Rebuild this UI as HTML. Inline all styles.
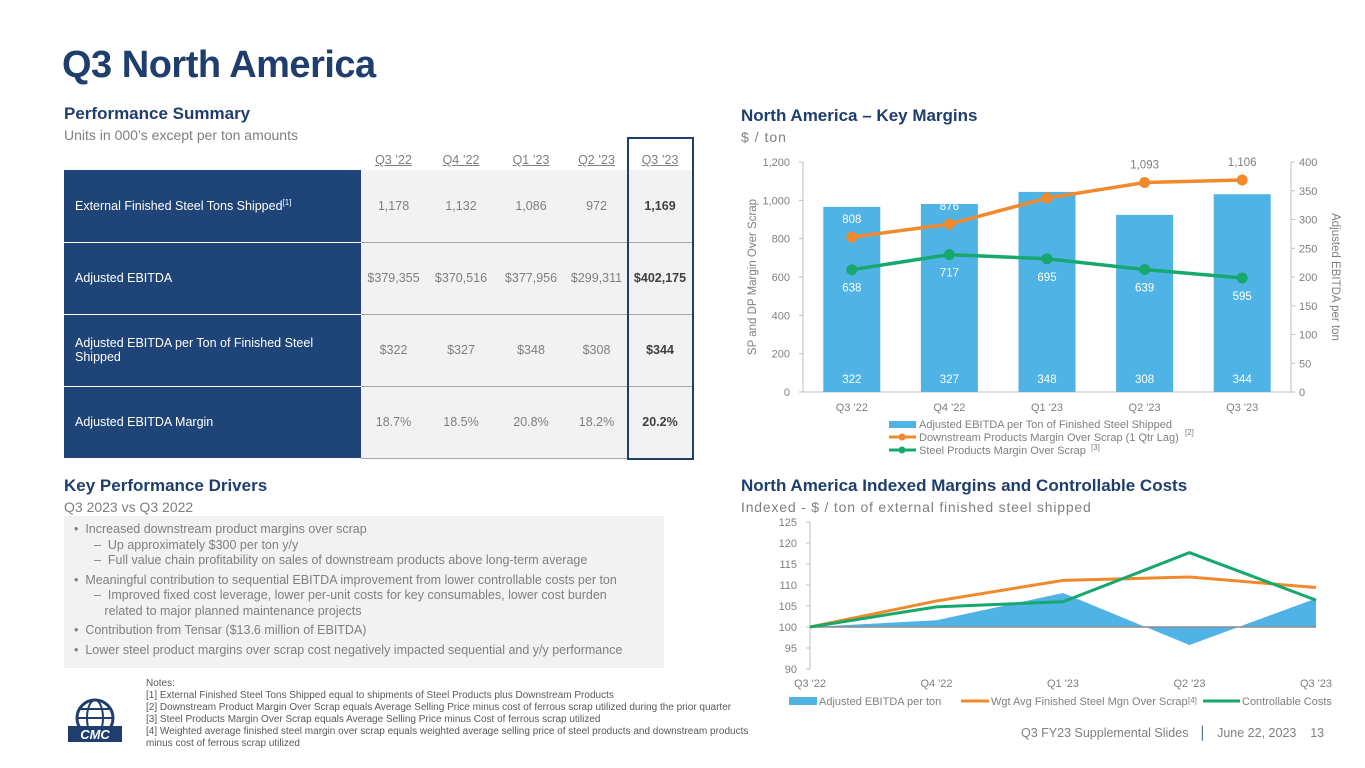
<!DOCTYPE html>
<html><head><meta charset="utf-8">
<style>
*{margin:0;padding:0;box-sizing:border-box}
body{width:1365px;height:768px;background:#fff;font-family:"Liberation Sans",sans-serif;position:relative;overflow:hidden;color:#595959}
.abs{position:absolute}
h1{position:absolute;left:62px;top:44px;font-size:38px;font-weight:bold;color:#1f3e6e;letter-spacing:-0.5px}
.h2{position:absolute;font-size:17px;font-weight:bold;color:#1f3e6e}
.sub{position:absolute;font-size:14px;color:#7f7f7f}
table{position:absolute;left:64px;top:146px;border-collapse:collapse;font-size:12.5px;table-layout:fixed;width:629px}
td{height:72px;text-align:center;color:#7f7f7f;white-space:nowrap}
td.lab{background:#1f4477;color:#fff;text-align:left;padding-left:11px;border-bottom:1px solid #fff;white-space:normal}
td.v{background:#f2f2f2;border-bottom:1px solid #a6a6a6}
td.b{font-weight:bold;color:#404040}
tr.hd td{height:24px;text-decoration:underline;color:#7f7f7f;background:#fff;vertical-align:bottom;padding-bottom:3px}
.box{position:absolute;left:64px;top:516px;width:600px;height:152px;background:#f2f2f2;font-size:12.5px;color:#7f7f7f;line-height:15.5px;padding:6px 10px}
.notes{position:absolute;left:146px;top:678px;font-size:10px;line-height:12px;color:#595959}
svg text{font-family:"Liberation Sans",sans-serif}
</style></head><body>
<h1>Q3 North America</h1>
<div class="h2" style="left:64px;top:104px">Performance Summary</div>
<div class="sub" style="left:64px;top:127px">Units in 000’s except per ton amounts</div>
<div class="abs" style="left:627px;top:137px;width:67px;height:323px;border:2px solid #1f3e6e;z-index:2"></div>
<table>
<colgroup><col style="width:297px"><col style="width:65px"><col style="width:70px"><col style="width:70px"><col style="width:61px"><col style="width:66px"></colgroup>
<tr class="hd"><td style="background:#fff"></td><td>Q3 ’22</td><td>Q4 ’22</td><td>Q1 ’23</td><td>Q2 ’23</td><td>Q3 ’23</td></tr>
<tr><td class="lab">External Finished Steel Tons Shipped<sup style="font-size:8px">[1]</sup></td><td class="v">1,178</td><td class="v">1,132</td><td class="v">1,086</td><td class="v">972</td><td class="v b">1,169</td></tr>
<tr><td class="lab">Adjusted EBITDA</td><td class="v">$379,355</td><td class="v">$370,516</td><td class="v">$377,956</td><td class="v">$299,311</td><td class="v b">$402,175</td></tr>
<tr><td class="lab">Adjusted EBITDA per Ton of Finished Steel Shipped</td><td class="v">$322</td><td class="v">$327</td><td class="v">$348</td><td class="v">$308</td><td class="v b">$344</td></tr>
<tr><td class="lab">Adjusted EBITDA Margin</td><td class="v">18.7%</td><td class="v">18.5%</td><td class="v">20.8%</td><td class="v">18.2%</td><td class="v b">20.2%</td></tr>
</table>
<div class="h2" style="left:64px;top:476px">Key Performance Drivers</div>
<div class="sub" style="left:64px;top:499px">Q3 2023 vs Q3 2022</div>
<div class="box">
<div>• &nbsp;Increased downstream product margins over scrap</div>
<div style="padding-left:20px">–&nbsp; Up approximately $300 per ton y/y</div>
<div style="padding-left:20px">–&nbsp; Full value chain profitability on sales of downstream products above long-term average</div>
<div style="margin-top:4px">• &nbsp;Meaningful contribution to sequential EBITDA improvement from lower controllable costs per ton</div>
<div style="padding-left:20px">–&nbsp; Improved fixed cost leverage, lower per-unit costs for key consumables, lower cost burden<br>&nbsp;&nbsp;&nbsp;related to major planned maintenance projects</div>
<div style="margin-top:4px">• &nbsp;Contribution from Tensar ($13.6 million of EBITDA)</div>
<div style="margin-top:4px">• &nbsp;Lower steel product margins over scrap cost negatively impacted sequential and y/y performance</div>
</div>
<div class="notes">Notes:<br>[1] External Finished Steel Tons Shipped equal to shipments of Steel Products plus Downstream Products<br>[2] Downstream Product Margin Over Scrap equals Average Selling Price minus cost of ferrous scrap utilized during the prior quarter<br>[3] Steel Products Margin Over Scrap equals Average Selling Price minus Cost of ferrous scrap utilized<br>[4] Weighted average finished steel margin over scrap equals weighted average selling price of steel products and downstream products<br>minus cost of ferrous scrap utilized</div>
<svg class="abs" style="left:62px;top:698px" width="70" height="52">
<circle cx="33" cy="20" r="18" fill="none" stroke="#1f3e6e" stroke-width="3"/>
<ellipse cx="33" cy="20" rx="8" ry="18" fill="none" stroke="#1f3e6e" stroke-width="2"/>
<line x1="15" y1="20" x2="51" y2="20" stroke="#1f3e6e" stroke-width="2"/>
<line x1="18" y1="11" x2="48" y2="11" stroke="#1f3e6e" stroke-width="2"/>
<rect x="6" y="28" width="54" height="16" fill="#1f3e6e"/>
<text x="33" y="41" font-size="13" font-weight="bold" fill="#fff" text-anchor="middle" font-style="italic">CMC</text>
</svg>
<div class="abs" style="left:1021px;top:726px;font-size:12.5px;color:#7f7f7f">Q3 FY23 Supplemental Slides &nbsp;&nbsp;<span style="color:#1f3e6e">│</span>&nbsp;&nbsp; June 22, 2023 &nbsp;&nbsp;&nbsp;13</div>

<div class="h2" style="left:741px;top:106px">North America – Key Margins</div>
<div class="sub" style="left:741px;top:129px;letter-spacing:1px">$ / ton</div>
<div class="h2" style="left:741px;top:476px">North America Indexed Margins and Controllable Costs</div>
<div class="sub" style="left:741px;top:499px;letter-spacing:0.8px">Indexed - $ / ton of external finished steel shipped</div>

<svg id="c1" class="abs" style="left:0;top:0" width="1365" height="768"></svg>
<script>
const cats=["Q3 '22","Q4 '22","Q1 '23","Q2 '23","Q3 '23"];
const ebitdaPerTon=[322,327,348,308,344];
const dpMargin=[808,876,1012,1093,1106];
const spMargin=[638,717,695,639,595];
const leftTicks=[0,200,400,600,800,1000,1200];
const rightTicks=[0,50,100,150,200,250,300,350,400];
const idxEbitda=[100,101.6,108.1,95.7,106.8];
const idxWgt=[100,106.2,111.1,111.9,109.4];
const idxCost=[100,104.8,106.0,117.7,106.4];
const idxTicks=[90,95,100,105,110,115,120,125];

const NS="http://www.w3.org/2000/svg";
const svg=document.getElementById('c1');
function mk(t,a,txt){const e=document.createElementNS(NS,t);for(const k in a)e.setAttribute(k,a[k]);if(txt!==undefined)e.textContent=txt;svg.appendChild(e);return e;}
const fmt=v=>v.toLocaleString('en-US');
const L=803,R=1291,Y0=392,Y1=162;
const yl=v=>Y0-(v/1200)*(Y0-Y1), yr=v=>Y0-(v/400)*(Y0-Y1);
const bw=(R-L)/cats.length, xc=i=>L+bw*(i+0.5);
let e;
leftTicks.forEach(t=>{e=mk('text',{x:790,y:yl(t)+4,'font-size':11,fill:'#7f7f7f','text-anchor':'end'},fmt(t));});
rightTicks.forEach(t=>{e=mk('text',{x:1299,y:yr(t)+4,'font-size':11,fill:'#7f7f7f'},t);});
mk('line',{x1:L,y1:Y1,x2:L,y2:Y0,stroke:'#bfbfbf'});mk('line',{x1:R,y1:Y1,x2:R,y2:Y0,stroke:'#bfbfbf'});
mk('line',{x1:L,y1:Y0,x2:R,y2:Y0,stroke:'#bfbfbf'});
leftTicks.forEach(t=>mk('line',{x1:L-4,y1:yl(t),x2:L,y2:yl(t),stroke:'#bfbfbf'}));
rightTicks.forEach(t=>mk('line',{x1:R,y1:yr(t),x2:R+4,y2:yr(t),stroke:'#bfbfbf'}));
e=mk('text',{x:0,y:0,'font-size':11.5,fill:'#7f7f7f','text-anchor':'middle',transform:`translate(756,${(Y0+Y1)/2}) rotate(-90)`},'SP and DP Margin Over Scrap');
e=mk('text',{x:0,y:0,'font-size':11.5,fill:'#7f7f7f','text-anchor':'middle',transform:`translate(1332,${(Y0+Y1)/2}) rotate(90)`},'Adjusted EBITDA per ton');
ebitdaPerTon.forEach((v,i)=>{e=mk('rect',{x:xc(i)-28.5,y:yr(v),width:57,height:Y0-yr(v),fill:'#4fb3e6'});
mk('text',{x:xc(i),y:383,'font-size':11.5,fill:'#fff','text-anchor':'middle'},v);
mk('text',{x:xc(i),y:411,'font-size':11,fill:'#7f7f7f','text-anchor':'middle'},cats[i]);});
function series(arr,col,name){e=mk('polyline',{points:arr.map((v,i)=>xc(i)+','+yl(v)).join(' '),fill:'none',stroke:col,'stroke-width':3.5});
arr.forEach((v,i)=>{e=mk('circle',{cx:xc(i),cy:yl(v),r:5.5,fill:col});});}
series(dpMargin,'#f08a2c','dp-margin');series(spMargin,'#16a86c','sp-margin');
dpMargin.forEach((v,i)=>{const inBar=yl(v)>yr(ebitdaPerTon[i]);mk('text',{x:xc(i),y:yl(v)-14,'font-size':11.5,fill:inBar?'#fff':'#7f7f7f','text-anchor':'middle'},fmt(v));});
spMargin.forEach((v,i)=>mk('text',{x:xc(i),y:yl(v)+22,'font-size':11.5,fill:'#fff','text-anchor':'middle'},v));
mk('rect',{x:889,y:421,width:27,height:7,fill:'#4fb3e6'});
mk('text',{x:919,y:428,'font-size':11,fill:'#7f7f7f'},'Adjusted EBITDA per Ton of Finished Steel Shipped');
mk('line',{x1:889,y1:437,x2:916,y2:437,stroke:'#f08a2c','stroke-width':3});mk('circle',{cx:902,cy:437,r:3.5,fill:'#f08a2c'});
mk('text',{x:919,y:441,'font-size':11,fill:'#7f7f7f'},'Downstream Products Margin Over Scrap (1 Qtr Lag)');
mk('text',{x:1185,y:435,'font-size':8,fill:'#7f7f7f'},'[2]');
mk('line',{x1:889,y1:450,x2:916,y2:450,stroke:'#16a86c','stroke-width':3});mk('circle',{cx:902,cy:450,r:3.5,fill:'#16a86c'});
mk('text',{x:919,y:454,'font-size':11,fill:'#7f7f7f'},'Steel Products Margin Over Scrap');
mk('text',{x:1091,y:450,'font-size':8,fill:'#7f7f7f'},'[3]');
const L2=810,R2=1316,B2=669,T2=522;
const yi=v=>B2-(v-90)/35*(B2-T2), xi=i=>L2+(R2-L2)*i/(cats.length-1);
idxTicks.forEach(t=>{e=mk('text',{x:797,y:yi(t)+4,'font-size':11,fill:'#7f7f7f','text-anchor':'end'},t);mk('line',{x1:L2-4,y1:yi(t),x2:L2,y2:yi(t),stroke:'#bfbfbf'});});
mk('line',{x1:L2,y1:T2,x2:L2,y2:B2,stroke:'#bfbfbf'});
e=mk('polygon',{points:`${xi(0)},${yi(100)} `+idxEbitda.map((v,i)=>xi(i)+','+yi(v)).join(' ')+` ${xi(cats.length-1)},${yi(100)}`,fill:'#4fb3e6'});
mk('line',{x1:L2,y1:yi(100),x2:R2,y2:yi(100),stroke:'#8c8c8c','stroke-width':1.5});
function s2(arr,col,name){e=mk('polyline',{points:arr.map((v,i)=>xi(i)+','+yi(v)).join(' '),fill:'none',stroke:col,'stroke-width':3});}
s2(idxWgt,'#f08a2c','wgt-avg-line');s2(idxCost,'#16a86c','controllable-costs-line');
cats.forEach((c,i)=>mk('text',{x:xi(i),y:687,'font-size':11,fill:'#7f7f7f','text-anchor':'middle'},c));
mk('rect',{x:789,y:697,width:28,height:8,fill:'#4fb3e6'});
mk('text',{x:819,y:705,'font-size':11,fill:'#7f7f7f'},'Adjusted EBITDA per ton');
mk('line',{x1:961,y1:701,x2:989,y2:701,stroke:'#f08a2c','stroke-width':3});
mk('text',{x:991,y:705,'font-size':11,fill:'#7f7f7f'},'Wgt Avg Finished Steel Mgn Over Scrap');
mk('text',{x:1188,y:703,'font-size':8,fill:'#7f7f7f'},'[4]');
mk('line',{x1:1203,y1:701,x2:1240,y2:701,stroke:'#16a86c','stroke-width':3});
mk('text',{x:1242,y:705,'font-size':11,fill:'#7f7f7f'},'Controllable Costs');
</script>
</body></html>
